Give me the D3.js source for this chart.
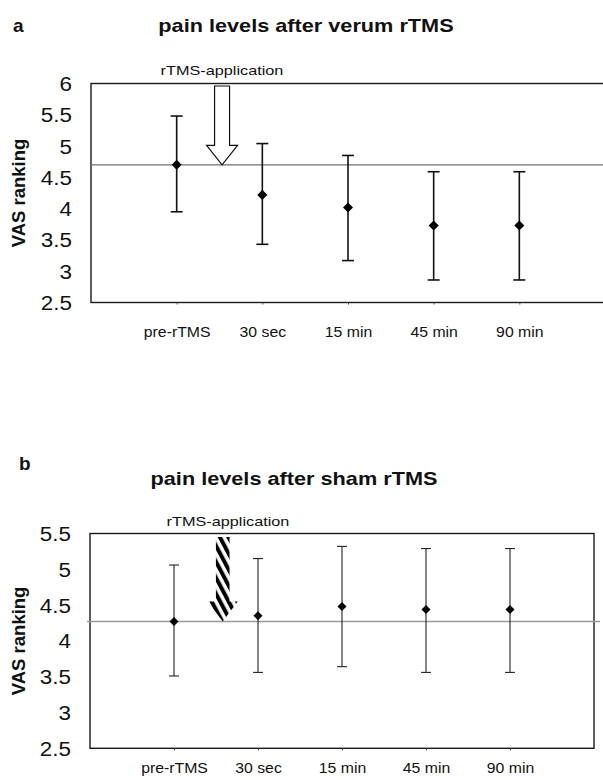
<!DOCTYPE html>
<html>
<head>
<meta charset="utf-8">
<script src="https://cdn.jsdelivr.net/npm/d3@7"></script>
<style>
  html, body { margin: 0; padding: 0; background: #fff; }
  svg { display: block; }
  text { font-family: "Liberation Sans", Arial, sans-serif; fill: #111; }
</style>
</head>
<body>
<svg id="chart" width="603" height="780"></svg>
<script>
// ---------- data ----------
const categories = ["pre-rTMS", "30 sec", "15 min", "45 min", "90 min"];

const verumMean  = [4.70, 4.22, 4.02, 3.73, 3.73];
const verumUpper = [5.48, 5.04, 4.85, 4.59, 4.59];
const verumLower = [3.95, 3.43, 3.17, 2.86, 2.86];
const verumBaseline = 4.70;
const verumTicks = [2.5, 3, 3.5, 4, 4.5, 5, 5.5, 6];

const shamMean  = [4.27, 4.35, 4.48, 4.44, 4.44];
const shamUpper = [5.06, 5.15, 5.32, 5.29, 5.29];
const shamLower = [3.51, 3.56, 3.64, 3.56, 3.56];
const shamBaseline = 4.27;
const shamTicks = [2.5, 3, 3.5, 4, 4.5, 5, 5.5];

const panelLetters = ["a", "b"];
const panelTitles = ["pain levels after verum rTMS", "pain levels after sham rTMS"];
const yAxisTitle = "VAS ranking";
const arrowLabel = "rTMS-application";

// ---------- helpers ----------
const svg = d3.select("#chart");
const FONT = '"Liberation Sans", Arial, sans-serif';

function stretch(sel, sx) {
  sel.each(function () {
    const t = d3.select(this);
    const x = +(t.attr("x") || 0);
    t.attr("transform", `translate(${x},0) scale(${sx},1) translate(${-x},0)`);
  });
}

const defs = svg.append("defs");
const pat = defs.append("pattern")
  .attr("id", "hatch")
  .attr("patternUnits", "userSpaceOnUse")
  .attr("width", 7.5).attr("height", 7.5)
  .attr("patternTransform", "rotate(-28)");
pat.append("rect").attr("width", 7.5).attr("height", 7.5).attr("fill", "#fff");
pat.append("rect").attr("width", 4).attr("height", 7.5).attr("fill", "#000");

const panels = [
  {
    mean: verumMean, upper: verumUpper, lower: verumLower, base: verumBaseline,
    ticks: verumTicks, domain: [2.5, 6],
    left: 91, right: 605, top: 83.5, bottom: 302.5,
    letterX: 13, letterY: 32, titleX: 306, titleY: 32,
    labelX: 222, labelY: 75, xLabelOffset: 35,
    arrowFrac: 0.53, arrowStyle: "open",
    refColor: "#707070", refWidth: 1.3, refExtend: 0,
    barColor: "#111", barWidth: 1.6, capHalf: 6, markerSize: 64,
    arrowHeadH: 19.5, arrowHeadHalf: 15.5, arrowShaftHalf: 7.5, arrowTopGap: 2.5
  },
  {
    mean: shamMean, upper: shamUpper, lower: shamLower, base: shamBaseline,
    ticks: shamTicks, domain: [2.5, 5.5],
    left: 90, right: 594, top: 533.5, bottom: 748.3,
    letterX: 19, letterY: 470, titleX: 294, titleY: 485,
    labelX: 228, labelY: 526, xLabelOffset: 25,
    arrowFrac: 0.58, arrowStyle: "hatch",
    refColor: "#9a9a9a", refWidth: 1.5, refExtend: 3,
    barColor: "#222", barWidth: 1.1, capHalf: 5, markerSize: 52,
    arrowHeadH: 20, arrowHeadHalf: 15, arrowShaftHalf: 6.8, arrowTopGap: 3.5
  }
];

panels.forEach((p, idx) => {
  const g = svg.append("g");
  const x = d3.scalePoint().domain(categories).range([p.left, p.right]).padding(1);
  const y = d3.scaleLinear().domain(p.domain).range([p.bottom, p.top]);

  // panel letter and title
  g.append("text").attr("x", p.letterX).attr("y", p.letterY)
    .style("font-size", "19px").style("font-weight", "bold").text(panelLetters[idx]);
  g.append("text").attr("x", p.titleX).attr("y", p.titleY)
    .attr("text-anchor", "middle")
    .style("font-size", "17.5px").style("font-weight", "bold")
    .text(panelTitles[idx])
    .call(stretch, 1.24);

  // frame
  g.append("rect")
    .attr("x", p.left).attr("y", p.top)
    .attr("width", p.right - p.left + (idx === 0 ? 6 : 0))
    .attr("height", p.bottom - p.top)
    .attr("fill", "none").attr("stroke", "#1a1a1a").attr("stroke-width", 1.4);

  // y axis
  const yAxis = d3.axisLeft(y).tickValues(p.ticks).tickSize(0).tickPadding(19)
    .tickFormat(d => (d % 1 ? d.toFixed(1) : d3.format("d")(d)));
  const ya = g.append("g").attr("transform", `translate(${p.left},0)`).call(yAxis);
  ya.select(".domain").remove();
  ya.selectAll("text")
    .style("font-size", "19.5px").style("font-family", FONT).attr("fill", "#111")
    .attr("dy", "0.36em")
    .call(stretch, 1.15);

  // x axis
  const xAxis = d3.axisBottom(x).tickSize(2).tickPadding(0);
  const xa = g.append("g").attr("transform", `translate(0,${p.bottom})`).call(xAxis);
  xa.select(".domain").remove();
  xa.selectAll(".tick line").attr("stroke", "#444").attr("stroke-width", 1);
  xa.selectAll("text")
    .attr("y", p.xLabelOffset).attr("dy", 0)
    .style("font-size", "14px").style("font-family", FONT).attr("fill", "#111")
    .call(stretch, 1.13);

  // y axis title
  const cy = (p.top + p.bottom) / 2;
  g.append("text")
    .attr("transform", `translate(25,${cy}) rotate(-90)`)
    .attr("text-anchor", "middle")
    .style("font-size", "18.5px").style("font-weight", "bold")
    .text(yAxisTitle);

  // reference line at baseline value
  g.append("line")
    .attr("x1", p.left - p.refExtend).attr("x2", p.right + 6)
    .attr("y1", y(p.base)).attr("y2", y(p.base))
    .attr("stroke", p.refColor).attr("stroke-width", p.refWidth);

  // error bars
  const bars = g.append("g");
  categories.forEach((c, i) => {
    const cx = x(c);
    bars.append("line").attr("x1", cx).attr("x2", cx)
      .attr("y1", y(p.upper[i])).attr("y2", y(p.lower[i]))
      .attr("stroke", p.barColor).attr("stroke-width", p.barWidth);
    [p.upper[i], p.lower[i]].forEach(v => {
      bars.append("line").attr("x1", cx - p.capHalf).attr("x2", cx + p.capHalf)
        .attr("y1", y(v)).attr("y2", y(v))
        .attr("stroke", p.barColor).attr("stroke-width", p.barWidth);
    });
  });

  // markers
  g.append("g").selectAll("path").data(categories).join("path")
    .attr("transform", (c, i) => `translate(${x(c)},${y(p.mean[i])})`)
    .attr("d", d3.symbol().type(d3.symbolDiamond2).size(p.markerSize))
    .attr("fill", "#000");

  // rTMS application arrow
  const ax = x(categories[0]) + p.arrowFrac * x.step();
  const tipY = y(p.base);
  const topY = p.top + p.arrowTopGap;
  const headY = tipY - p.arrowHeadH;
  const pts = [
    [ax - p.arrowShaftHalf, topY], [ax + p.arrowShaftHalf, topY],
    [ax + p.arrowShaftHalf, headY], [ax + p.arrowHeadHalf, headY],
    [ax, tipY], [ax - p.arrowHeadHalf, headY],
    [ax - p.arrowShaftHalf, headY]
  ];
  const arrow = g.append("path").attr("d", d3.line()(pts) + "Z");
  if (p.arrowStyle === "open") {
    arrow.attr("fill", "#fff").attr("stroke", "#111").attr("stroke-width", 1.2);
  } else {
    arrow.attr("fill", "url(#hatch)").attr("stroke", "none");
  }

  g.append("text").attr("x", p.labelX).attr("y", p.labelY)
    .attr("text-anchor", "middle")
    .style("font-size", "13px")
    .text(arrowLabel)
    .call(stretch, 1.25);
});
</script>
</body>
</html>
